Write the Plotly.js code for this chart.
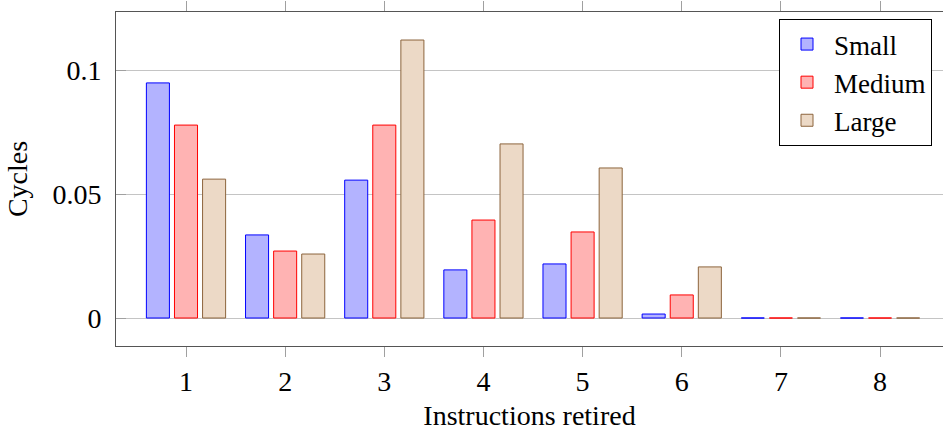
<!DOCTYPE html>
<html>
<head>
<meta charset="utf-8">
<script src="https://cdn.plot.ly/plotly-3.0.1.min.js"></script>
<style>html,body{margin:0;padding:0;background:#fff;}#chart{width:943px;height:431px;}</style>
</head>
<body>
<div id="chart"></div>
<script>
const categories = [1, 2, 3, 4, 5, 6, 7, 8];
const tickLabels = ["1", "2", "3", "4", "5", "6", "7", "8"];
const small  = [0.0948, 0.0335, 0.0556, 0.0194, 0.0218, 0.0016, 0, 0];
const medium = [0.0778, 0.0270, 0.0778, 0.0395, 0.0347, 0.0093, 0, 0];
const large  = [0.0560, 0.0258, 0.1121, 0.0702, 0.0605, 0.0206, 0, 0];
const seriesNames = ["Small", "Medium", "Large"];

const FONT = "Liberation Serif, Times New Roman, serif";
const FS = 28;
const styles = [
  {fill: "rgb(179,179,255)", line: "rgb(0,0,255)"},
  {fill: "rgb(255,179,179)", line: "rgb(255,0,0)"},
  {fill: "rgb(236,217,198)", line: "rgb(140,100,60)"}
];
const seriesData = [small, medium, large];

const traces = seriesData.map((vals, i) => ({
  type: "bar",
  name: seriesNames[i],
  x: categories,
  y: vals,
  marker: {color: styles[i].fill, line: {color: styles[i].line, width: 1}},
  hoverinfo: "x+y"
}));

const layout = {
  width: 943, height: 431,
  margin: {l: 116, r: 0, t: 12, b: 85},
  paper_bgcolor: "#fff", plot_bgcolor: "#fff",
  font: {family: FONT, size: FS, color: "#000"},
  barmode: "group",
  bargap: 0.15,
  bargroupgap: 0.18,
  showlegend: true,
  legend: {
    x: 0.9867, y: 0.979, xanchor: "right", yanchor: "top",
    bordercolor: "#000", borderwidth: 1, bgcolor: "#fff",
    font: {family: FONT, size: FS - 1},
    itemwidth: 44,
    tracegroupgap: 0
  },
  xaxis: {
    range: [0.294, 8.635],
    tickmode: "array", tickvals: categories, ticktext: tickLabels,
    ticks: "outside", ticklen: 10, tickcolor: "#a0a0a0", tickwidth: 1,
    showline: true, linecolor: "#555", linewidth: 1, mirror: "ticks",
    showgrid: false, zeroline: false,
    tickfont: {family: FONT, size: FS},
    title: {text: "Instructions retired", font: {family: FONT, size: FS}, standoff: 9}
  },
  yaxis: {
    range: [-0.01129, 0.1234],
    tickmode: "array", tickvals: [0, 0.05, 0.1], ticktext: ["0", "0.05", "0.1"],
    ticks: "inside", ticklen: 10, tickcolor: "#a0a0a0", tickwidth: 1,
    showline: true, linecolor: "#555", linewidth: 1, mirror: false,
    showgrid: true, gridcolor: "#c4c4c4", gridwidth: 1, zeroline: false,
    tickfont: {family: FONT, size: FS},
    ticklabelstandoff: 8,
    title: {text: "Cycles", font: {family: FONT, size: FS}, standoff: 16}
  }
};

Plotly.newPlot("chart", traces, layout, {displayModeBar: false, staticPlot: true});
</script>
</body>
</html>
